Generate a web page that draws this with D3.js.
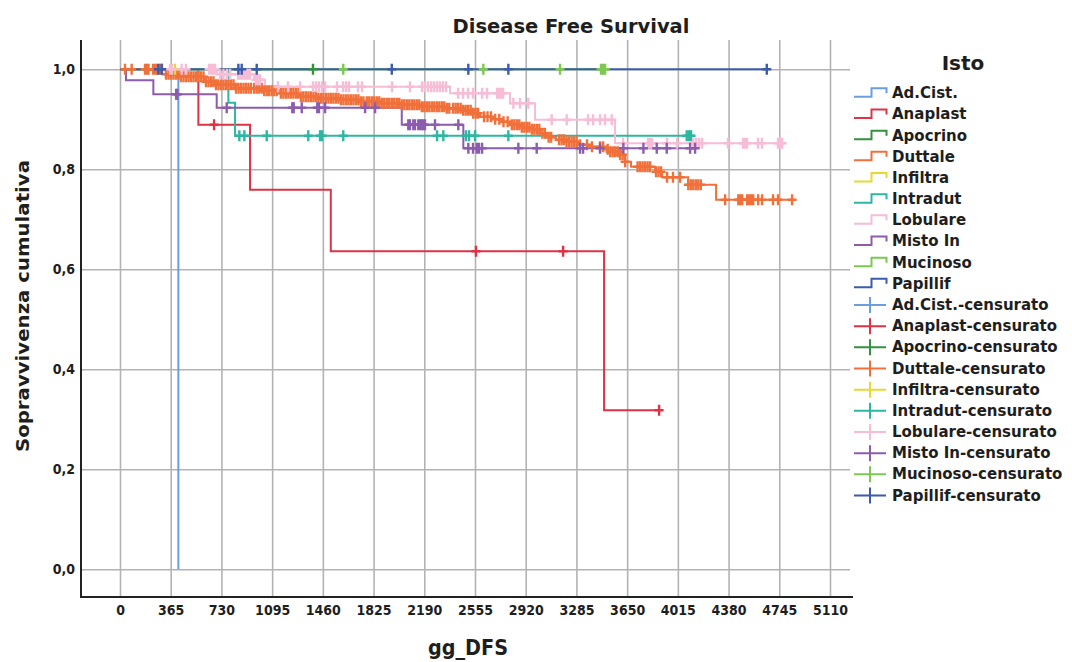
<!DOCTYPE html>
<html><head><meta charset="utf-8">
<script src="https://cdn.jsdelivr.net/npm/d3@7"></script>
<style>
body{margin:0;background:#fff;}
svg{display:block;}
text{font-family:"DejaVu Sans",sans-serif;font-weight:bold;fill:#1e1e1e;}
.cond{font-family:"DejaVu Sans Condensed","DejaVu Sans",sans-serif;font-stretch:condensed;}
</style></head><body>
<svg id="c" width="1072" height="662"></svg>
<script>
const categories = ["Ad.Cist.","Anaplast","Apocrino","Duttale","Infiltra","Intradut","Lobulare","Misto In","Mucinoso","Papillif"];
const colors = ["#6a9ee0","#dd3344","#33913f","#f1703a","#e6d932","#2db7a0","#f7bdd7","#8c5cae","#7cc850","#3b5bad"];
const censorSuffix = "-censurato";
const xTicks = [0,365,730,1095,1460,1825,2190,2555,2920,3285,3650,4015,4380,4745,5110];
const yTicks = [0,0.2,0.4,0.6,0.8,1.0];

// Ad.Cist.
const adcistDays = [420], adcistSurv = [0], adcistCens = [], adcistEnd = 420;
// Anaplast
const anaplastDays = [564,936,1517,3484], anaplastSurv = [0.889,0.759,0.636,0.318];
const anaplastCens = [677,2562,3189,3880], anaplastEnd = 3880;
// Apocrino
const apocrinoDays = [], apocrinoSurv = [], apocrinoCens = [1389], apocrinoEnd = 1389;
// Duttale
const duttaleDays = [331,432,612,684,828,1022,1152,1296,1425,1584,1728,1871,2015,2159,2339,2462,2534,2591,2678,2750,2807,2879,2951,3023,3066,3138,3203,3296,3383,3484,3527,3585,3635,3678,3851,3901,4089,4290];
const duttaleSurv = [0.99,0.985,0.975,0.969,0.962,0.957,0.952,0.945,0.942,0.939,0.935,0.932,0.929,0.925,0.922,0.918,0.912,0.905,0.9,0.895,0.889,0.884,0.88,0.872,0.864,0.859,0.855,0.849,0.845,0.84,0.835,0.829,0.815,0.805,0.795,0.784,0.769,0.739];
const duttaleCens = [36,84,180,194,205,238,252,266,288,302,
 331,349,367,385,403,421,439,457,475,493,511,529,547,565,583,601,619,637,655,673,691,709,727,745,763,781,799,817,835,853,871,889,907,925,943,966,984,1002,1020,1038,1056,1074,1092,1110,1128,1158,1176,1194,1212,1230,1248,1266,1284,1302,1320,1338,1356,1374,1392,1410,1428,1446,1464,1482,1500,1518,1536,1554,1572,1590,1608,1626,1644,1662,1680,1698,1716,1734,1752,1776,1794,1812,1830,1848,1866,1884,1902,1920,1938,1956,1974,1992,2010,2028,2046,2064,2082,2100,2118,2136,2154,2172,2190,2208,2226,2244,2262,2280,2298,2316,2334,2352,2370,2398,2416,2434,2452,2470,2488,2506,2524,2542,2560,2578,
 2620,2645,2670,2700,2730,2760,2790,
 2820,2838,2856,2874,2892,2910,2928,2946,2964,2982,3000,3018,
 3040,3058,3085,3103,
 3160,3178,3196,3214,3232,3250,3268,3286,
 3311,3361,3397,3455,3477,
 3510,3528,3546,3564,3582,3600,3618,3636,
 3725,3743,3761,3779,3797,3815,
 3858,3876,3894,3937,3980,4031,
 4090,4108,4126,4144,4162,4180,
 4355,4450,4464,4478,4514,4528,4542,4557,4593,4621,4700,4736,4837];
const duttaleEnd = 4844;
// Infiltra
const infiltraDays = [], infiltraSurv = [], infiltraCens = [396], infiltraEnd = 396;
// Intradut
const intradutDays = [780,828], intradutSurv = [0.933,0.867];
const intradutCens = [859,895,1056,1355,1440,1454,1607,2282,2327,2490,2512,2555,2795,4079,4096,4110], intradutEnd = 4110;
// Lobulare
const lobulareDays = [698,965,1044,2375,2807,2987,3563], lobulareSurv = [0.99,0.979,0.965,0.952,0.932,0.899,0.852];
const lobulareCens = [360,374,444,475,641,655,670,684,
 720,745,770,792,850,864,878,893,907,922,936,
 979,994,1008,
 1137,1209,1296,1389,1411,1432,1454,1476,1562,1605,1627,1648,1713,1742,1958,2087,2174,2195,2217,2239,2260,2282,2303,2325,2347,
 2433,2469,2505,2541,2606,2642,2714,2728,2743,2757,
 2831,2879,2939,
 3107,3215,3369,3405,3455,3491,3539,
 3621,3801,3815,3829,3937,4009,4125,4146,4168,4189,4376,4484,4498,4513,4592,4621,4736,4750,4765];
const lobulareEnd = 4772;
// Misto In
const mistoDays = [43,240,696,2028,2471], mistoSurv = [0.978,0.95,0.923,0.889,0.842];
const mistoCens = [404,412,768,1240,1250,1308,1420,1432,1476,1764,1836,2075,2087,2111,2123,2147,2159,2172,2183,2195,2267,2435,2507,2541,2568,2584,2606,2867,2999,3311,3333,3455,3623,3767,3863,3935,4103,4139];
const mistoEnd = 4139;
// Mucinoso
const mucinosoDays = [], mucinosoSurv = [], mucinosoCens = [1607,2615,3167,3462,3477,3491], mucinosoEnd = 3491;
// Papillif
const papillifDays = [], papillifSurv = [], papillifCens = [276,300,852,876,984,1956,2507,2795,4655], papillifEnd = 4655;

const series = [
  [adcistDays, adcistSurv, adcistCens, adcistEnd],
  [anaplastDays, anaplastSurv, anaplastCens, anaplastEnd],
  [apocrinoDays, apocrinoSurv, apocrinoCens, apocrinoEnd],
  [duttaleDays, duttaleSurv, duttaleCens, duttaleEnd],
  [infiltraDays, infiltraSurv, infiltraCens, infiltraEnd],
  [intradutDays, intradutSurv, intradutCens, intradutEnd],
  [lobulareDays, lobulareSurv, lobulareCens, lobulareEnd],
  [mistoDays, mistoSurv, mistoCens, mistoEnd],
  [mucinosoDays, mucinosoSurv, mucinosoCens, mucinosoEnd],
  [papillifDays, papillifSurv, papillifCens, papillifEnd]
].map((s,i)=>({name:categories[i], color:colors[i], days:s[0], surv:s[1], cens:s[2], end:s[3]}));

const svg = d3.select("#c");
const x = d3.scaleLinear().domain([0,5110]).range([120,830]);
const y = d3.scaleLinear().domain([0,1]).range([569.3,69.3]);
const axL = 81, axB = 597, topY = 40, gridR = 850, axR = 853;

// grid + axes
const gx = svg.append("g").attr("transform",`translate(0,${axB})`)
  .call(d3.axisBottom(x).tickValues(xTicks).tickSize(-(axB-topY)).tickPadding(8).tickFormat(d3.format("d")));
gx.select(".domain").remove();
gx.selectAll(".tick line").attr("stroke","#b3b3b3").attr("stroke-width",1.6);
gx.selectAll(".tick text").attr("class","cond").style("font-size","14px").attr("fill","#1e1e1e");

const gy = svg.append("g").attr("transform",`translate(${axL},0)`)
  .call(d3.axisLeft(y).tickValues(yTicks).tickSize(-(gridR-axL)).tickPadding(6).tickFormat(d=>d3.format(".1f")(d).replace(".",",")));
gy.select(".domain").remove();
gy.selectAll(".tick line").attr("stroke","#b3b3b3").attr("stroke-width",1.6);
gy.selectAll(".tick text").attr("class","cond").style("font-size","14px").attr("fill","#1e1e1e");

svg.append("line").attr("x1",axL).attr("x2",axL).attr("y1",topY).attr("y2",axB+1).attr("stroke","#222").attr("stroke-width",2);
svg.append("line").attr("x1",axL-1).attr("x2",axR).attr("y1",axB).attr("y2",axB).attr("stroke","#222").attr("stroke-width",2);

function survAt(s,t){ let v=1; s.days.forEach((d,i)=>{ if(d<=t) v=s.surv[i]; }); return v; }

const line = d3.line().x(d=>x(d[0])).y(d=>y(d[1])).curve(d3.curveStepAfter);
const gl = svg.append("g");
series.forEach(s=>{
  const pts = [[0,1]].concat(s.days.map((d,i)=>[d,s.surv[i]]));
  pts.push([s.end, pts[pts.length-1][1]]);
  gl.append("path").attr("d",line(pts)).attr("fill","none").attr("stroke",s.color).attr("stroke-width",2);
});
const gc = svg.append("g");
series.forEach(s=>{
  gc.selectAll(null).data(s.cens).enter().append("path")
    .attr("transform",d=>`translate(${x(d)},${y(survAt(s,d))})`)
    .attr("d","M-4.5,0H4.5M0,-5.5V5.5").attr("stroke",s.color).attr("stroke-width",2.4).attr("fill","none");
});

// titles
svg.append("text").attr("x",571).attr("y",33).attr("text-anchor","middle").style("font-size","19.5px").text("Disease Free Survival");
svg.append("text").attr("class","cond").attr("x",468).attr("y",655).attr("text-anchor","middle").style("font-size","21px")
  .attr("textLength",80).attr("lengthAdjust","spacingAndGlyphs").text("gg_DFS");
svg.append("text").attr("transform","translate(22,306) rotate(-90)").attr("text-anchor","middle").attr("dominant-baseline","central")
  .style("font-size","18.5px").attr("textLength",292).attr("lengthAdjust","spacingAndGlyphs").text("Sopravvivenza cumulativa");

// legend
const lg = svg.append("g");
lg.append("text").attr("x",963).attr("y",63).attr("text-anchor","middle").attr("dominant-baseline","central").style("font-size","20px").text("Isto");
const rowY = i => 93.3 + i*21.17;
series.forEach((s,i)=>{
  const cy = rowY(i);
  lg.append("path").attr("d",`M854,${cy+3.5}H871.5V${cy-5}H886.5V${cy}`).attr("fill","none").attr("stroke",s.color).attr("stroke-width",2);
  lg.append("text").attr("x",892).attr("y",cy).attr("dominant-baseline","central").style("font-size","15px").text(s.name);
});
series.forEach((s,i)=>{
  const cy = rowY(i+10);
  lg.append("path").attr("d",`M854,${cy}H886M870,${cy-8}V${cy+8}`).attr("fill","none").attr("stroke",s.color).attr("stroke-width",2);
  lg.append("text").attr("x",892).attr("y",cy).attr("dominant-baseline","central").style("font-size","15px").text(s.name+censorSuffix);
});
</script></body></html>
